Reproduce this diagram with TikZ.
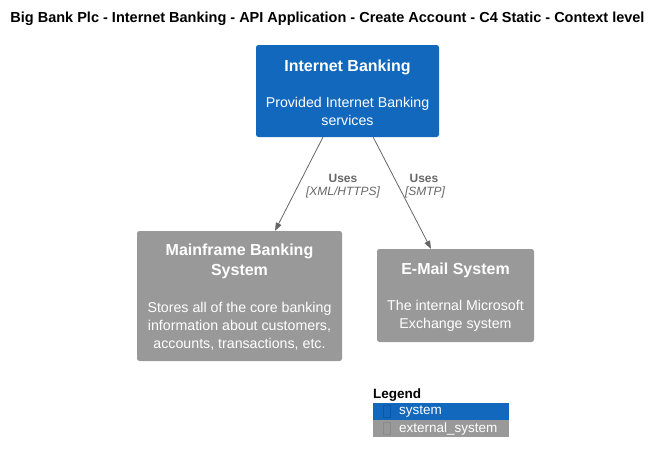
\documentclass[tikz,border=0pt]{standalone}
\usepackage{fontspec}
\setmainfont{Liberation Sans}
\usetikzlibrary{arrows.meta,calc}
\definecolor{sysblue}{HTML}{1168BD}
\definecolor{extgray}{HTML}{999999}
\definecolor{arrgray}{HTML}{666666}
\tikzset{
  box/.style={rounded corners=2.5pt, draw=none, inner sep=0pt},
  ttl/.style={text=white, font=\fontsize{16}{20}\selectfont\bfseries, align=center, inner sep=0pt},
  dsc/.style={text=white, font=\fontsize{14.2}{18}\selectfont, align=center, inner sep=0pt},
  arr/.style={draw=arrgray, line width=0.8pt, -{Triangle[length=8pt,width=6pt]}},
  lbl/.style={text=arrgray, font=\fontsize{12}{14}\selectfont\bfseries, inner sep=0pt},
  tech/.style={text=arrgray, font=\fontsize{12}{14}\selectfont\itshape, inner sep=0pt},
  legtxt/.style={text=white, font=\fontsize{13.5}{16}\selectfont, anchor=west, inner sep=0pt},
  glyph/.style={draw=#1, line width=0.5pt}
}
\begin{document}
\begin{tikzpicture}[x=1pt,y=-1pt]
\useasboundingbox[fill=white] (0,0) rectangle (663,464);
\node[font=\fontsize{14.5}{17}\selectfont\bfseries, inner sep=0pt] (title) at (327.5,19) {Big Bank Plc - Internet Banking - API Application - Create Account - C4 Static - Context level};

% Internet Banking
\path[box, fill=sysblue] (256,45) rectangle (439,137);
\node[minimum width=183pt, minimum height=92pt, inner sep=0pt] (ib) at (347.5,91) {};
\node[ttl] (ibt) at (347.5,67.5) {Internet Banking};
\node[dsc] (ibd) at (347.5,111.5) {Provided Internet Banking\\services};

% Mainframe
\path[box, fill=extgray] (137,231) rectangle (342,361);
\node[minimum width=205pt, minimum height=130pt, inner sep=0pt] (mf) at (239.5,296) {};
\node[ttl] (mft) at (239.5,261.5) {Mainframe Banking\\System};
\node[dsc] (mfd) at (239.5,326) {Stores all of the core banking\\information about customers,\\accounts, transactions, etc.};

% E-Mail
\path[box, fill=extgray] (377,249) rectangle (534,342);
\node[minimum width=157pt, minimum height=93pt, inner sep=0pt] (em) at (455.5,295.5) {};
\node[ttl] (emt) at (455.5,270.5) {E-Mail System};
\node[dsc] (emd) at (455.5,315.5) {The internal Microsoft\\Exchange system};

% Connectors
\draw[arr] ($(ib.south west)!0.366!(ib.south east)$) -- ($(mf.north west)!0.673!(mf.north east)$);
\draw[arr] ($(ib.south west)!0.64!(ib.south east)$) -- ($(em.north west)!0.344!(em.north east)$);
\node[lbl] (l1) at (343,178) {Uses};
\node[tech] (t1) at (343,192) {[XML/HTTPS]};
\node[lbl] (l2) at (424,178) {Uses};
\node[tech] (t2) at (425,192) {[SMTP]};

% Legend
\node[font=\fontsize{13.5}{16}\selectfont\bfseries, anchor=west, inner sep=0pt] (leg) at (373,395) {Legend};
\fill[sysblue] (373,403) rectangle (509,420);
\fill[extgray] (373,420) rectangle (509,437);
\draw[glyph=sysblue!85!black] (383,405.5) rectangle (390,417.5);
\draw[glyph=extgray!90!black] (383,422.5) rectangle (390,434.5);
\node[legtxt] (ls) at (399,411.5) {system};
\node[legtxt] (le) at (399,428.5) {external\_system};
\end{tikzpicture}
\end{document}
